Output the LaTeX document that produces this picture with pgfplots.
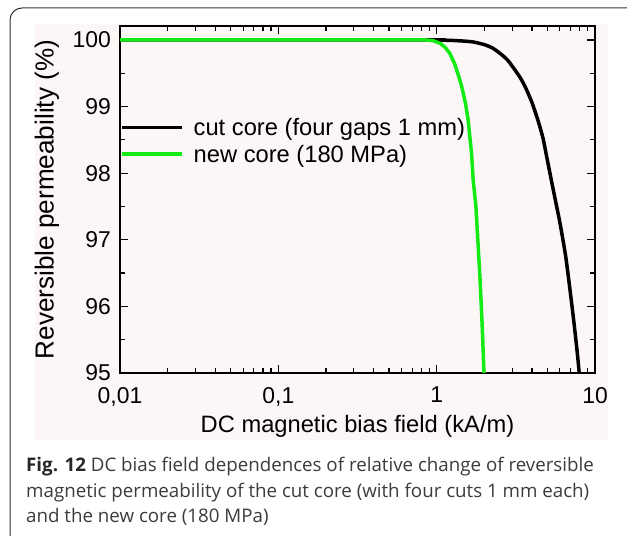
\documentclass[border=0pt]{standalone}
\usepackage{fontspec}
\setmainfont{Liberation Sans}
\newfontfamily\capfont{Open Sans}
\usepackage{pgfplots}
\pgfplotsset{compat=1.18}
\definecolor{bggray}{RGB}{252,247,246}
\definecolor{lgreen}{RGB}{20,235,20}
\definecolor{capgray}{RGB}{60,60,60}
\begin{document}
\begin{tikzpicture}
\useasboundingbox (0,0) rectangle (627bp,536bp);
\clip (0,0) rectangle (627bp,536bp);
\fill[white] (0,0) rectangle (627bp,536bp);
\draw[line width=1bp, color=black!80, rounded corners=12bp] (10bp,-20bp) rectangle (640bp,528bp);
\fill[bggray] (35bp,96bp) rectangle (608bp,512bp);
\begin{axis}[
  at={(120bp,163bp)}, anchor=south west,
  scale only axis, width=475bp, height=347bp,
  xmode=log, xmin=0.01, xmax=10,
  ymin=95, ymax=100.21,
  xtick={0.01,0.1,1,10}, xticklabels={0{,}01,0{,}1,1,10},
  ytick={95,96,97,98,99,100}, yticklabels={95,96,97,98,99,100},
  minor ytick={95.5,96.5,97.5,98.5,99.5},
  axis line style={line width=1.6bp},
  major tick length=8bp, minor tick length=5bp,
  every tick/.style={black, line width=1.2bp},
  tick label style={font=\fontsize{23}{26}\selectfont, inner sep=0pt},
  xticklabel style={yshift=-14bp},
  yticklabel style={xshift=-9bp},
  xlabel={DC magnetic bias field (kA/m)},
  ylabel={Reversible permeability (\%)},
  every axis x label/.style={at={(axis description cs:0.5,-0.155)}, anchor=center, font=\fontsize{23.8}{27}\selectfont},
  every axis y label/.style={at={(axis description cs:-0.154,0.5)}, anchor=center, rotate=90, font=\fontsize{26.2}{29}\selectfont},
  legend style={draw=none, fill=none, at={(axis description cs:0,0.669)}, anchor=west,
    inner xsep=0pt, inner ysep=0pt, font=\fontsize{23.8}{27}\selectfont,
    nodes={inner sep=1bp}, row sep=6bp, column sep=9bp},
  legend cell align=left,
  legend image code/.code={\draw[#1, line width=3.5bp] (0bp,0bp) -- (60bp,0bp);},
]
\addplot[black, line width=3.5bp, line join=round, smooth, tension=0.4] coordinates {
(0.01,100) (0.9,100) (1.0,99.998) (1.2,99.995) (1.45,99.985) (1.7,99.97)
(2.0,99.93) (2.25,99.88) (2.51,99.8) (2.8,99.7) (3.1,99.56) (3.4,99.42)
(3.65,99.28) (4.0,99.06) (4.38,98.78) (4.7,98.52) (4.95,98.25) (5.45,97.75)
(6.01,97.25) (6.53,96.75) (6.95,96.25) (7.37,95.75) (7.77,95.25) (7.95,95.0)
};
\addlegendentry{cut core (four gaps 1 mm)}
\addplot[lgreen, line width=3.5bp, line join=round] coordinates {
(0.01,100) (0.85,100) (0.95,99.99) (1.05,99.95) (1.13,99.89) (1.21,99.8)
(1.30,99.64) (1.38,99.45) (1.44,99.3) (1.52,99.05) (1.58,98.8) (1.66,98.3)
(1.70,97.9) (1.77,97.5) (1.83,96.9) (1.88,96.4) (1.94,95.7) (1.99,95.0)
};
\addlegendentry{new core (180 MPa)}
\end{axis}
\node[anchor=base west, inner sep=0pt, text=capgray, font=\capfont\fontsize{18.8}{24}\selectfont] at (26bp,64bp) {{\color{black!85}\bfseries Fig. 12} DC bias field dependences of relative change of reversible};
\node[anchor=base west, inner sep=0pt, text=capgray, font=\capfont\fontsize{18.8}{24}\selectfont] at (26bp,39bp) {magnetic permeability of the cut core (with four cuts 1 mm each)};
\node[anchor=base west, inner sep=0pt, text=capgray, font=\capfont\fontsize{18.8}{24}\selectfont] at (26bp,14bp) {and the new core (180 MPa)};
\end{tikzpicture}
\end{document}
